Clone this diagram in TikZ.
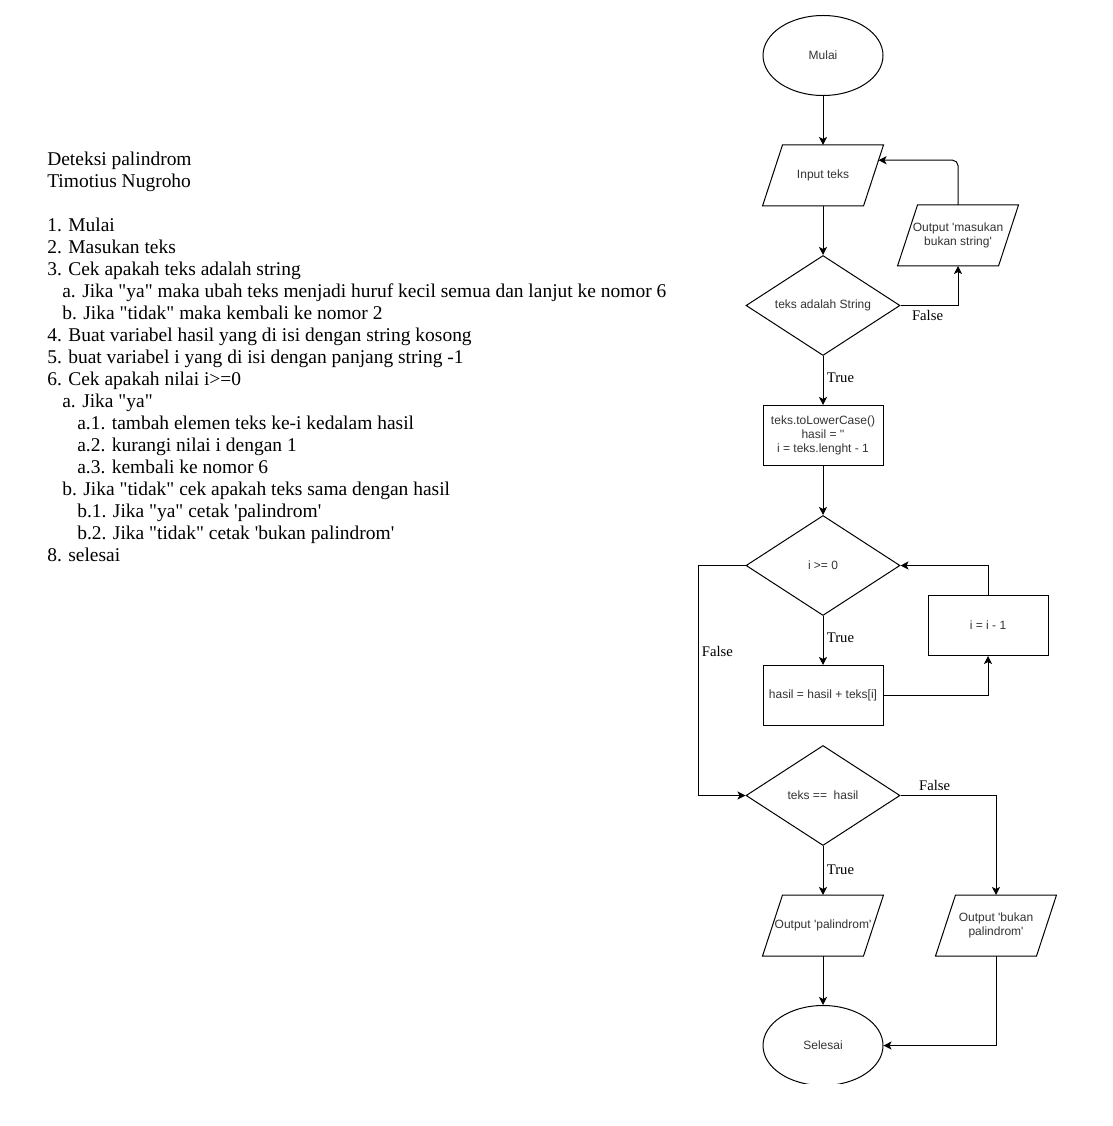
\documentclass[tikz,border=0pt]{standalone}
\usepackage{fontspec}
\setmainfont{Liberation Serif}[Ligatures=TeXOff]
\newfontfamily\arialf{Liberation Sans}[Ligatures=TeXOff]
\usetikzlibrary{shapes.geometric,arrows.meta,calc}
\definecolor{txtgray}{HTML}{333333}
\begin{document}
\begin{tikzpicture}[x=0.75pt,y=-0.75pt,
  base/.style={draw, line width=0.75pt, font=\arialf\fontsize{9}{10.5}\selectfont, text=txtgray, align=center, inner sep=0pt},
  term/.style={base, ellipse, minimum width=90pt, minimum height=60pt},
  io/.style={base, draw=none, rectangle, minimum width=75pt, minimum height=45pt},
  iobox/.style={line width=0.75pt},
  proc/.style={base, rectangle, minimum width=90pt, minimum height=45pt},
  dec/.style={base, diamond, minimum width=115.5pt, minimum height=75pt, aspect=1.54},
  flow/.style={line width=0.75pt, -{Stealth[length=6pt,width=6pt,inset=1.5pt]}},
  lbl/.style={font=\fontsize{11}{13}\selectfont, inner sep=0pt, text=black}
]
\useasboundingbox (0,0) rectangle (1112,1126);

% description text
\node[anchor=north west, inner sep=0pt, align=left, font=\fontsize{14.6}{16.5}\selectfont] (desc) at (47,152) {%
Deteksi palindrom\\
Timotius Nugroho\\[16.5pt]
1. Mulai\\
2. Masukan teks\\
3. Cek apakah teks adalah string\\
\hspace*{11.25pt}a. Jika "ya" maka ubah teks menjadi huruf kecil semua dan lanjut ke nomor 6\\
\hspace*{11.25pt}b. Jika "tidak" maka kembali ke nomor 2\\
4. Buat variabel hasil yang di isi dengan string kosong\\
5. buat variabel i yang di isi dengan panjang string -1\\
6. Cek apakah nilai i>=0\\
\hspace*{11.25pt}a. Jika "ya"\\
\hspace*{22.5pt}a.1. tambah elemen teks ke-i kedalam hasil\\
\hspace*{22.5pt}a.2. kurangi nilai i dengan 1\\
\hspace*{22.5pt}a.3. kembali ke nomor 6\\
\hspace*{11.25pt}b. Jika "tidak" cek apakah teks sama dengan hasil\\
\hspace*{22.5pt}b.1. Jika "ya" cetak 'palindrom'\\
\hspace*{22.5pt}b.2. Jika "tidak" cetak 'bukan palindrom'\\
8. selesai};

% flowchart nodes
\node[term] (start) at (823,55.5) {Mulai};
\node[io] (input) at (823,175.5) {Input teks};
\node[io] (out1) at (958,235.5) {Output 'masukan\\bukan string'};
\node[dec] (dec1) at (823,305.5) {teks adalah String};
\node[proc] (proc1) at (823,435.5) {teks.toLowerCase()\\hasil = ''\\i = teks.lenght - 1};
\node[dec] (dec2) at (823,565.5) {i >= 0};
\node[proc] (proc2) at (823,695.5) {hasil = hasil + teks[i]};
\node[proc] (deci) at (988,625.5) {i = i - 1};
\node[dec] (dec3) at (823,795.5) {teks ==\ \ hasil};
\node[io] (out2) at (823,925.5) {Output 'palindrom'};
\node[io] (out3) at (996,925.5) {Output 'bukan\\palindrom'};
\begin{scope}
  \clip (700,990) rectangle (920,1083);
  \node[term] (end) at (823,1045.5) {Selesai};
\end{scope}
\coordinate (lc) at (698,565.5);

% parallelogram outlines of the input/output nodes
\foreach \n in {input,out1,out2,out3}
  \draw[iobox] ([xshift=-7.5pt]\n.south west) -- ([xshift=7.5pt]\n.north west)
    -- ([xshift=7.5pt]\n.north east) -- ([xshift=-7.5pt]\n.south east) -- cycle;

% connectors
\draw[flow] (start.south) -- (input.north);
\draw[flow] (input.south) -- (dec1.north);
\draw[flow] (dec1.east) -| (out1.south)
  node[lbl, pos=0.096, anchor=north west, yshift=-3.5pt] {False};
\draw[flow, rounded corners=4pt] (out1.north) |- ($([xshift=7.5pt]input.north east)!0.25!([xshift=-7.5pt]input.south east)$);
\draw[flow] (dec1.south) -- (proc1.north)
  node[lbl, pos=0.44, anchor=west, xshift=2.5pt] {True};
\draw[flow] (proc1.south) -- (dec2.north);
\draw[flow] (dec2.south) -- (proc2.north)
  node[lbl, pos=0.44, anchor=west, xshift=2.5pt] {True};
\draw[flow] (proc2.east) -| (deci.south);
\draw[flow] (deci.north) |- (dec2.east);
\draw[flow] (dec2.west) -- (lc) |- (dec3.west)
  node[lbl, pos=0.187, anchor=west, xshift=2.5pt] {False};
\draw[flow] (dec3.east) -| (out3.north)
  node[lbl, pos=0.095, anchor=south west, yshift=3.5pt] {False};
\draw[flow] (dec3.south) -- (out2.north)
  node[lbl, pos=0.48, anchor=west, xshift=2.5pt] {True};
\draw[flow] (out2.south) -- (end.north);
\draw[flow] (out3.south) |- (end.east);
\end{tikzpicture}
\end{document}
